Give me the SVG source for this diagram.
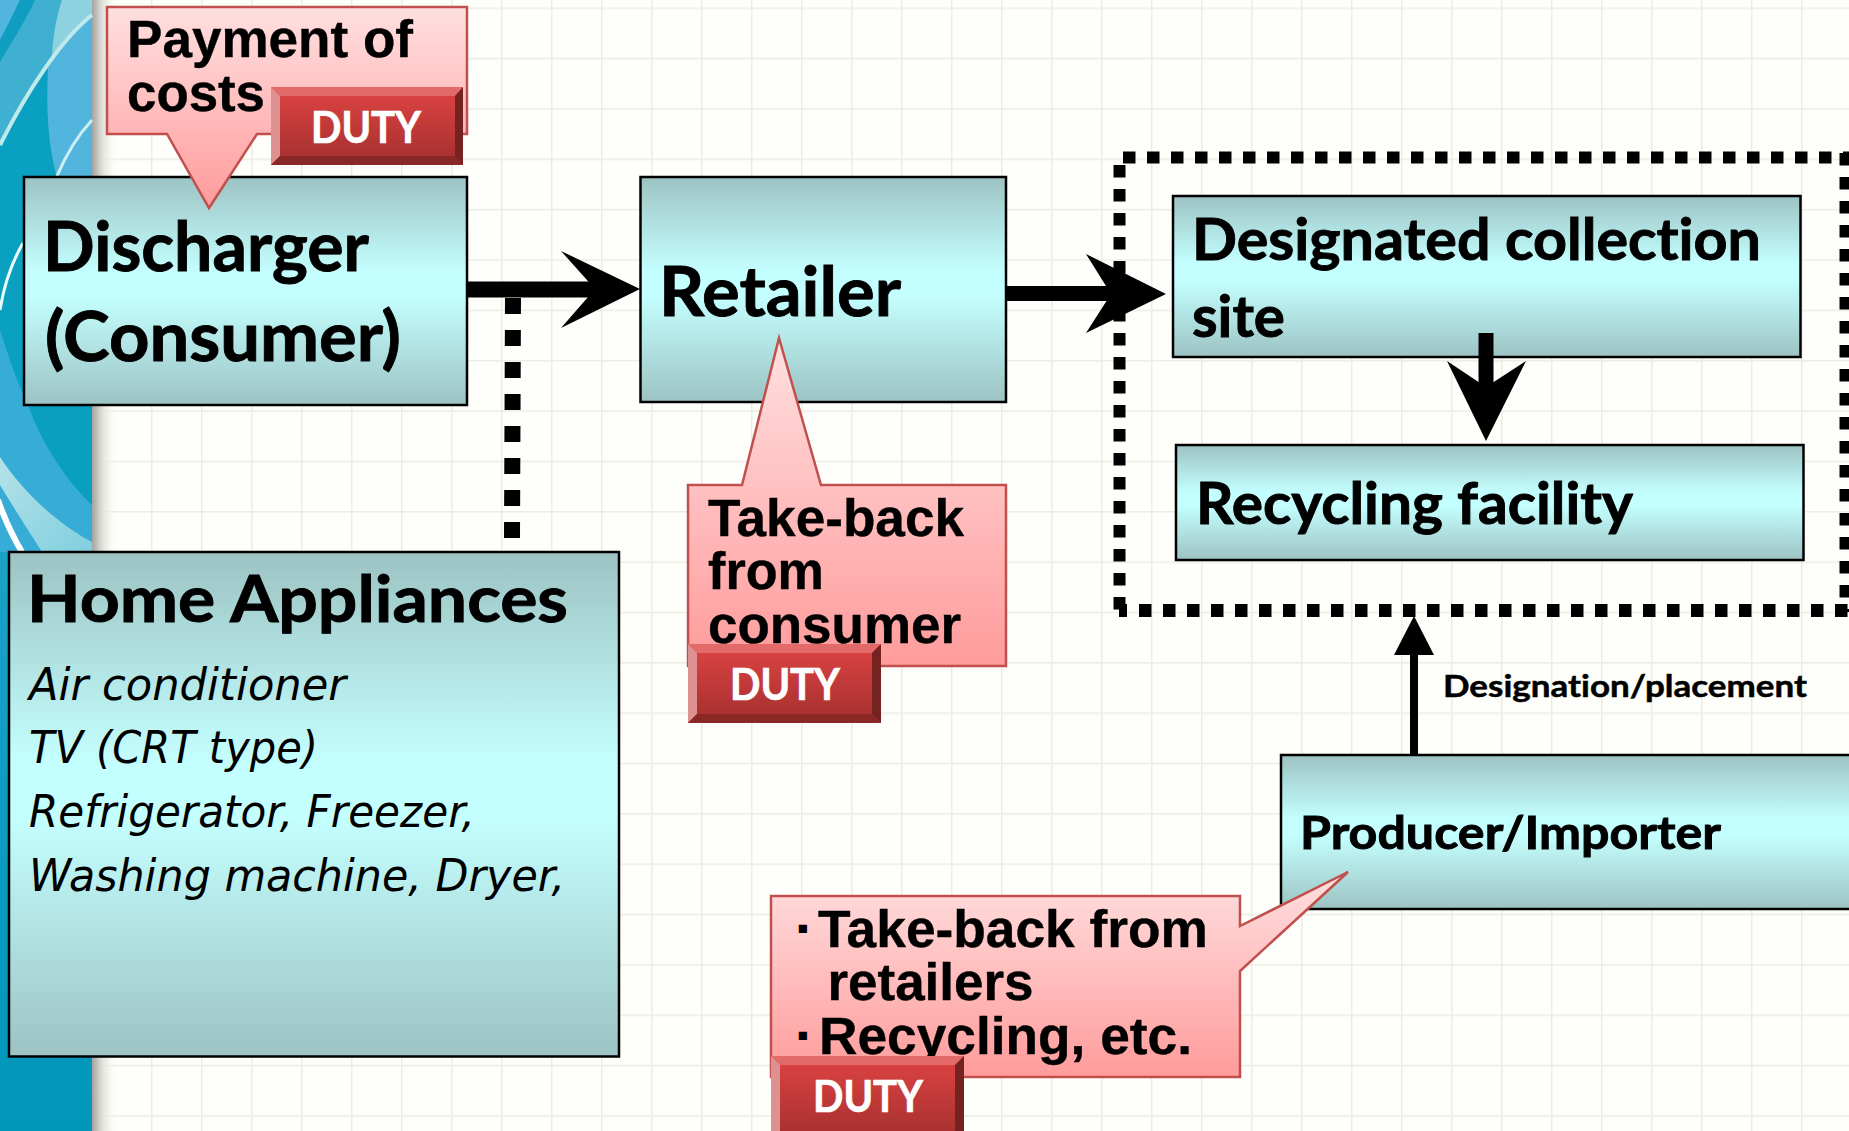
<svg xmlns="http://www.w3.org/2000/svg" width="1849" height="1131" viewBox="0 0 1849 1131">
<defs>
<linearGradient id="teal" x1="0" y1="0" x2="0" y2="1"><stop offset="0" stop-color="#9dc3c3"/><stop offset=".42" stop-color="#c4ffff"/><stop offset=".52" stop-color="#c4ffff"/><stop offset="1" stop-color="#9dc3c3"/></linearGradient>
<linearGradient id="pink" x1="0" y1="0" x2="0" y2="1"><stop offset="0" stop-color="#ffe0e0"/><stop offset="1" stop-color="#ff9b9b"/></linearGradient>
<linearGradient id="red" x1="0" y1="0" x2="0" y2="1"><stop offset="0" stop-color="#de4443"/><stop offset="1" stop-color="#a32f2e"/></linearGradient>
<linearGradient id="shadow" x1="0" y1="0" x2="1" y2="0"><stop offset="0" stop-color="#a5a39e"/><stop offset=".35" stop-color="#dcdad5"/><stop offset="1" stop-color="#fefffa" stop-opacity="0"/></linearGradient>
<linearGradient id="strip" x1="0" y1="0" x2="0" y2="1"><stop offset="0" stop-color="#35abd5"/><stop offset="1" stop-color="#0096ba"/></linearGradient>
<linearGradient id="band" x1="0" y1="0" x2="1" y2="1"><stop offset="0" stop-color="#b5e2e8"/><stop offset="1" stop-color="#80cfdf"/></linearGradient>
<pattern id="grid" x="1" y="7.5" width="50" height="50.35" patternUnits="userSpaceOnUse"><path d="M0 0V50.35M0 0H50" fill="none" stroke="#ecece6" stroke-width="3"/></pattern>
<style>
text{font-variant-ligatures:none}
.box{fill:url(#teal);stroke:#000;stroke-width:2.5}
.call{fill:url(#pink);stroke:#c0504d;stroke-width:2.5}
.t{font-family:Lato,"Open Sans",sans-serif;font-weight:700;fill:#000;stroke:#000;stroke-width:.9}
.a{font-family:"Liberation Sans",Arial,sans-serif;font-weight:700;fill:#000;stroke:#000;stroke-width:.4;font-size:51px}
.i{font-family:"DejaVu Sans",sans-serif;font-style:italic;fill:#000;font-size:45px}
.d{font-family:Lato,sans-serif;font-weight:700;fill:#fff;stroke:#fff;stroke-width:.7;font-size:44px}
.b{font-family:"Liberation Sans",Arial,sans-serif;font-weight:700;fill:#000;font-size:33px}
.face{fill:url(#red)}
.bt{fill:#e26a68}.bl{fill:#dd9191}.br{fill:#742320}.bb{fill:#8a2825}
.dot{fill:none;stroke:#000;stroke-dasharray:12.5 11.5}
</style>
</defs>

<g id="background">
<rect width="1849" height="1131" fill="#fefffa"/>
<rect x="92" width="1757" height="1131" fill="url(#grid)"/>
<rect x="92" width="26" height="1131" fill="url(#shadow)"/>
<rect width="92" height="1131" fill="url(#strip)"/>
<path d="M0 0H92V180H0Z" fill="#52b5de"/>
<path d="M20 0H92V15C60 40 25 95 0 145V40C8 25 14 12 20 0Z" fill="#3fb0cf"/>
<path d="M62 0H92V15C75 28 62 45 52 62C52 40 56 18 62 0Z" fill="#8fd2df"/>
<path d="M20 0H35C25 22 10 45 0 62V40C8 25 14 12 20 0Z" fill="#0f9ec2"/>
<path d="M0 145C15 110 30 90 48 68C46 110 48 145 57 178L57 250H0Z" fill="#0aa0c1"/>
<path d="M92 15C60 40 25 95 0 145" fill="none" stroke="#bfe9ea" stroke-width="4"/>
<path d="M92 120C78 135 66 155 57 176" fill="none" stroke="#cdeef5" stroke-width="3"/>
<path d="M0 177H92V410H0Z" fill="#0aa0c1"/>
<path d="M23 243C12 262 4 285 0 310" fill="none" stroke="#e9fbfc" stroke-width="3"/>
<path d="M0 330C8 355 18 385 28 405V420H0Z" fill="#37acd6"/>
<path d="M0 405H92V552H0Z" fill="#37acd6"/>
<path d="M28 405C40 440 65 480 92 505V405Z" fill="#0a9fc0"/>
<path d="M0 457C25 495 60 525 92 542V552H42C25 525 12 505 0 485Z" fill="url(#band)"/>
<path d="M-2 500C5 520 13 537 22 552" fill="none" stroke="#fff" stroke-width="6"/>
</g>

<g id="connectors">
<path d="M467 289.5H600" stroke="#000" stroke-width="16" fill="none"/>
<path d="M640 289L561 251L595 289L561 328Z" fill="#000"/>
<path d="M513 298L512 538" stroke="#000" stroke-width="16" stroke-dasharray="16 16" fill="none"/>
</g>

<g id="node-discharger">
<rect class="box" x="24" y="177" width="443" height="228"/>
<text class="t" x="43" y="271" font-size="69" textLength="326" lengthAdjust="spacingAndGlyphs">Discharger</text>
<text class="t" x="45" y="361" font-size="69" textLength="356" lengthAdjust="spacingAndGlyphs">(Consumer)</text>
</g>

<g id="node-retailer">
<rect class="box" x="640.5" y="177" width="365.5" height="225"/>
<text class="t" x="659" y="316" font-size="69" textLength="242" lengthAdjust="spacingAndGlyphs">Retailer</text>
</g>

<g id="node-home-appliances">
<rect class="box" x="9" y="552" width="610" height="504.5"/>
<text class="t" x="27" y="622" font-size="65" textLength="541" lengthAdjust="spacingAndGlyphs">Home Appliances</text>
<text class="i" x="29" y="700" textLength="317" lengthAdjust="spacingAndGlyphs">Air conditioner</text>
<text class="i" x="29" y="763" textLength="289" lengthAdjust="spacingAndGlyphs">TV (CRT type)</text>
<text class="i" x="29" y="827" textLength="446" lengthAdjust="spacingAndGlyphs">Refrigerator, Freezer,</text>
<text class="i" x="29" y="891" textLength="536" lengthAdjust="spacingAndGlyphs">Washing machine, Dryer,</text>
</g>

<g id="node-collection-group">
<path class="dot" d="M1123 157.5H1849" stroke-width="12"/>
<path class="dot" d="M1119.5 165V612" stroke-width="12"/>
<path class="dot" d="M1845 153V612" stroke-width="11"/>
<path class="dot" d="M1119 610.5H1127M1139 610.5H1849" stroke-width="13"/>
</g>

<g id="node-designated-collection-site">
<rect class="box" x="1173" y="196" width="627.5" height="161"/>
<text class="t" x="1192" y="260" font-size="57" textLength="569" lengthAdjust="spacingAndGlyphs">Designated collection</text>
<text class="t" x="1192" y="337" font-size="57" textLength="93" lengthAdjust="spacingAndGlyphs">site</text>
</g>

<g id="node-recycling-facility">
<rect class="box" x="1176" y="445" width="627.5" height="115"/>
<text class="t" x="1196" y="524" font-size="57" textLength="437" lengthAdjust="spacingAndGlyphs">Recycling facility</text>
</g>

<g id="node-producer-importer">
<rect class="box" x="1281" y="755" width="590" height="154"/>
<text class="t" x="1300" y="849" font-size="46" textLength="421" lengthAdjust="spacingAndGlyphs">Producer/Importer</text>
</g>

<g id="connectors-2">
<path d="M1006 293.5H1120" stroke="#000" stroke-width="15" fill="none"/>
<path d="M1166 294L1086 254L1111 294L1086 333Z" fill="#000"/>
<path d="M1486 333V395" stroke="#000" stroke-width="15" fill="none"/>
<path d="M1486 441L1447 361L1486 387L1526 361Z" fill="#000"/>
<path d="M1414 754V650" stroke="#000" stroke-width="8" fill="none"/>
<path d="M1414 616L1394 655H1434Z" fill="#000"/>
<text class="t" x="1443" y="697" font-size="31" style="stroke-width:.5" textLength="364" lengthAdjust="spacingAndGlyphs">Designation/placement</text>
</g>

<g id="node-payment-of-costs">
<path class="call" d="M107 7H467V134H257L209 208L167 134H107Z"/>
<text class="a" x="127" y="57" textLength="286" lengthAdjust="spacingAndGlyphs">Payment of</text>
<text class="a" x="127" y="111" textLength="138" lengthAdjust="spacingAndGlyphs">costs</text>
<g id="duty-1">
<rect class="face" x="271" y="87" width="192" height="78"/>
<path class="bt" d="M271 87H463L455 96H280Z"/><path class="bl" d="M271 87L280 96V156L271 165Z"/><path class="br" d="M463 87V165L455 156V96Z"/><path class="bb" d="M271 165H463L455 156H280Z"/>
<text class="d" x="311" y="142.5" textLength="110" lengthAdjust="spacingAndGlyphs">DUTY</text>
</g>
</g>

<g id="node-take-back-from-consumer">
<path class="call" d="M688 485H742L779 338L821 485H1006V666H688Z"/>
<text class="a" x="708" y="535.5" textLength="256" lengthAdjust="spacingAndGlyphs">Take-back</text>
<text class="a" x="708" y="589" textLength="116" lengthAdjust="spacingAndGlyphs">from</text>
<text class="a" x="708" y="642.5" textLength="253" lengthAdjust="spacingAndGlyphs">consumer</text>
<g id="duty-2">
<rect class="face" x="688" y="644" width="193" height="79"/>
<path class="bt" d="M688 644H881L872 653H697Z"/><path class="bl" d="M688 644L697 653V714L688 723Z"/><path class="br" d="M881 644V723L872 714V653Z"/><path class="bb" d="M688 723H881L872 714H697Z"/>
<text class="d" x="730" y="700" textLength="110" lengthAdjust="spacingAndGlyphs">DUTY</text>
</g>
</g>

<g id="node-takeback-recycling">
<path class="call" d="M771 896H1240V926L1348 872L1240 971V1077H771Z"/>
<text class="b" x="797" y="939">▪</text>
<text class="a" x="818" y="947" textLength="390" lengthAdjust="spacingAndGlyphs">Take-back from</text>
<text class="a" x="827.5" y="1000" textLength="206" lengthAdjust="spacingAndGlyphs">retailers</text>
<text class="b" x="797" y="1046">▪</text>
<text class="a" x="819" y="1053.5" textLength="373" lengthAdjust="spacingAndGlyphs">Recycling, etc.</text>
<g id="duty-3">
<rect class="face" x="771" y="1056" width="193" height="85"/>
<path class="bt" d="M771 1056H964L955 1065H780Z"/><path class="bl" d="M771 1056L780 1065V1141H771Z"/><path class="br" d="M964 1056V1141H955V1065Z"/>
<text class="d" x="813" y="1112" textLength="110" lengthAdjust="spacingAndGlyphs">DUTY</text>
</g>
</g>
</svg>
